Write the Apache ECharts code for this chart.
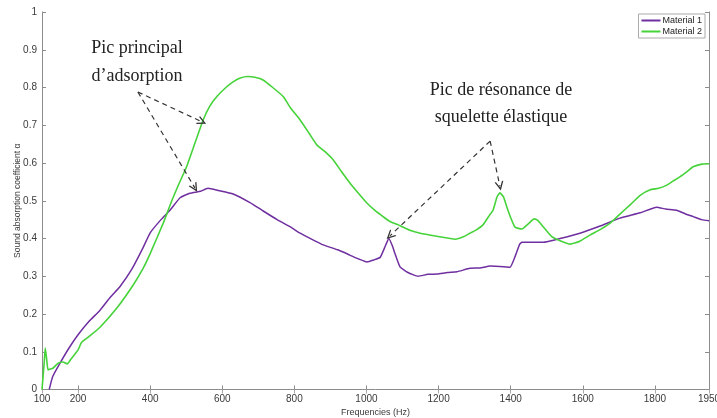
<!DOCTYPE html>
<html><head><meta charset="utf-8">
<script src="https://cdn.jsdelivr.net/npm/echarts@6/dist/echarts.min.js"></script>
<style>html,body{margin:0;padding:0;background:#fff}#c{width:717px;height:418px}</style>
</head><body><div id="c"></div>
<script>
const seriesNames = ['Material 1', 'Material 2'];
const xTickLabels = [100, 200, 400, 600, 800, 1000, 1200, 1400, 1600, 1800, 1950];
const m1Freq = [120,130,150,175,200,230,261,290,316,350,380,400,430,455,483,510,540,560,590,630,677,710,752,790,816,850,880,920,954,980,1001,1020,1038,1050,1062,1072,1079,1093,1115,1143,1170,1196,1225,1251,1287,1315,1343,1370,1398,1412,1425,1431,1460,1490,1537,1592,1648,1703,1759,1805,1830,1860,1885,1906,1930,1950];
const m1Abs = [0,0.035,0.07,0.11,0.145,0.18,0.21,0.245,0.272,0.32,0.375,0.415,0.45,0.475,0.508,0.52,0.525,0.533,0.527,0.518,0.495,0.475,0.45,0.43,0.414,0.397,0.383,0.37,0.356,0.345,0.338,0.343,0.35,0.375,0.40,0.38,0.36,0.325,0.31,0.30,0.305,0.306,0.31,0.312,0.321,0.322,0.327,0.326,0.324,0.352,0.385,0.39,0.39,0.39,0.40,0.414,0.433,0.454,0.468,0.483,0.478,0.475,0.465,0.458,0.45,0.447];
const m2Freq = [100,106,109,113,117,131,145,158,170,180,200,210,230,261,307,353,380,400,436,460,480,501,525,547,565,585,610,630,650,671,690,713,740,769,790,816,840,862,885,908,930,954,980,1001,1025,1046,1065,1093,1120,1149,1195,1246,1270,1287,1305,1323,1340,1351,1362,1370,1380,1389,1400,1412,1431,1450,1465,1475,1486,1500,1514,1537,1565,1590,1620,1650,1676,1700,1731,1760,1787,1810,1830,1850,1870,1890,1906,1930,1950];
const m2Abs = [0,0.07,0.11,0.08,0.052,0.057,0.07,0.073,0.068,0.08,0.105,0.125,0.14,0.165,0.215,0.277,0.32,0.36,0.44,0.50,0.545,0.59,0.655,0.714,0.75,0.776,0.80,0.815,0.825,0.829,0.827,0.82,0.80,0.776,0.745,0.714,0.68,0.648,0.63,0.608,0.578,0.547,0.517,0.494,0.473,0.458,0.445,0.434,0.422,0.414,0.406,0.398,0.405,0.414,0.423,0.436,0.46,0.475,0.51,0.521,0.51,0.484,0.455,0.43,0.425,0.44,0.452,0.448,0.436,0.42,0.405,0.394,0.385,0.392,0.409,0.425,0.441,0.462,0.489,0.515,0.529,0.533,0.54,0.552,0.564,0.578,0.59,0.597,0.598];
// annotation arrows in data coordinates: [fromFreq, fromAbs, toFreq, toAbs]
const arrows = [
  [366, 0.788, 544, 0.709],
  [366, 0.788, 524, 0.534],
  [1343, 0.658, 1065, 0.407],
  [1343, 0.658, 1370, 0.539]
];
const annotations = ['Pic principal\nd\u2019adsorption', 'Pic de r\u00e9sonance de\nsquelette \u00e9lastique'];

const chart = echarts.init(document.getElementById('c'), null, {renderer: 'canvas'});
const axisCol = '#8c8c8c';
const labelCol = '#3a3a3a';
const chevron = 'path://M0,10 L5,0 L10,10 L8.4,10 L5,3.2 L1.6,10 Z';
chart.setOption({
  animation: false,
  backgroundColor: '#fff',
  grid: {left: 42, right: 8, top: 12, bottom: 28.5, containLabel: false, outerBoundsMode: 'none'},
  legend: {
    data: seriesNames, orient: 'vertical', right: 12, top: 14,
    icon: 'rect', itemWidth: 19, itemHeight: 2, itemGap: 2, padding: [2, 3, 2, 3],
    borderColor: '#aaa', borderWidth: 1, backgroundColor: '#fff',
    textStyle: {fontSize: 9, color: '#222', fontFamily: 'Liberation Sans', padding: [0, 0, 0, -3]}
  },
  xAxis: [{
    type: 'value', min: 100, max: 1950, position: 'bottom',
    name: 'Frequencies (Hz)', nameLocation: 'middle', nameGap: 19, nameMoveOverlap: false,
    nameTextStyle: {fontSize: 9, color: labelCol, fontFamily: 'Liberation Sans'},
    axisLine: {show: true, lineStyle: {color: axisCol, width: 1}},
    axisTick: {show: true, inside: true, length: 4, customValues: xTickLabels, lineStyle: {color: axisCol}},
    axisLabel: {customValues: xTickLabels, formatter: v => String(v), fontSize: 10, color: labelCol, margin: 5, fontFamily: 'Liberation Sans'},
    splitLine: {show: false}
  }, {
    type: 'value', min: 100, max: 1950, position: 'top',
    axisLine: {show: false},
    axisTick: {show: true, inside: true, length: 4, customValues: xTickLabels, lineStyle: {color: '#aaa'}},
    axisLabel: {show: false}, splitLine: {show: false}
  }],
  yAxis: [{
    type: 'value', min: 0, max: 1, interval: 0.1, position: 'left',
    name: 'Sound absorption coefficient \u03b1', nameLocation: 'middle', nameGap: 20, nameMoveOverlap: false,
    nameTextStyle: {fontSize: 8.5, color: labelCol, fontFamily: 'Liberation Sans'},
    axisLine: {show: true, lineStyle: {color: axisCol, width: 1}},
    axisTick: {show: true, inside: true, length: 4, lineStyle: {color: axisCol}},
    axisLabel: {fontSize: 10, color: labelCol, margin: 5, fontFamily: 'Liberation Sans'},
    splitLine: {show: false}
  }, {
    type: 'value', min: 0, max: 1, interval: 0.1, position: 'right',
    axisLine: {show: true, lineStyle: {color: axisCol, width: 1}},
    axisTick: {show: true, inside: true, length: 4, lineStyle: {color: axisCol}},
    axisLabel: {show: false}, splitLine: {show: false}
  }],
  series: [{
    name: seriesNames[0], type: 'line', xAxisIndex: 0, yAxisIndex: 0,
    data: m1Freq.map((f, i) => [f, m1Abs[i]]),
    symbol: 'none', smooth: 0.15,
    lineStyle: {color: '#6f2fa0', width: 1.5}, itemStyle: {color: '#6f2fa0'},
    markLine: {
      silent: true, symbol: ['none', chevron], symbolSize: [9, 9],
      label: {show: false},
      lineStyle: {color: '#333', type: [5, 4], width: 1.2},
      emphasis: {disabled: true},
      data: arrows.map(a => [{coord: [a[0], a[1]]}, {coord: [a[2], a[3]]}])
    }
  }, {
    name: seriesNames[1], type: 'line', xAxisIndex: 0, yAxisIndex: 0,
    data: m2Freq.map((f, i) => [f, m2Abs[i]]),
    symbol: 'none', smooth: 0.15,
    lineStyle: {color: '#46d33a', width: 1.6}, itemStyle: {color: '#46d33a'}
  }],
  graphic: [{
    type: 'text', x: 137, y: 34,
    style: {text: annotations[0], fill: '#222', font: '18px "Liberation Serif"', textAlign: 'center', textVerticalAlign: 'top', lineHeight: 28}
  }, {
    type: 'text', x: 501, y: 77,
    style: {text: annotations[1], fill: '#222', font: '18px "Liberation Serif"', textAlign: 'center', textVerticalAlign: 'top', lineHeight: 27}
  }]
});
</script></body></html>
